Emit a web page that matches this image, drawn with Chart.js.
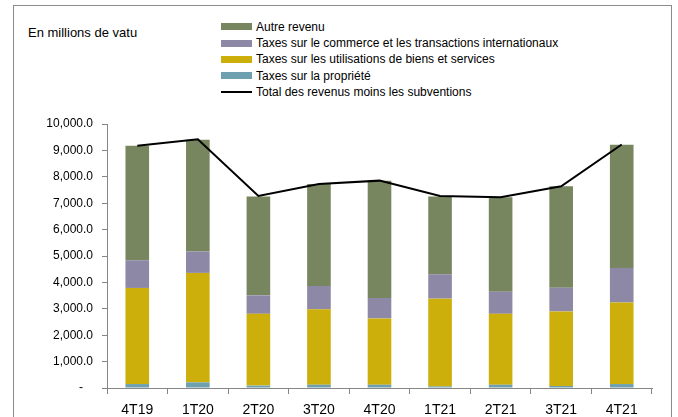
<!DOCTYPE html>
<html>
<head>
<meta charset="utf-8">
<script src="https://cdn.jsdelivr.net/npm/chart.js@4"></script>
<style>
  body { margin: 0; background: #fff; font-family: "Liberation Sans", Arial, sans-serif; }
  #wrap { position: relative; width: 678px; height: 417px; overflow: hidden; }
  #frame { position: absolute; left: 13px; top: 5px; width: 657px; height: 430px; border: 1px solid #8c8c8c; }
  #unit { position: absolute; left: 28px; top: 25px; font-size: 13px; color: #000; }
  #legend { position: absolute; left: 221px; top: 19px; font-size: 12px; color: #000; }
  .item { height: 16.2px; line-height: 16px; white-space: nowrap; }
  .swatch { display: inline-block; width: 31px; height: 7px; margin-right: 4px; vertical-align: middle; position: relative; top: -1px; }
  .line { display: inline-block; width: 31px; height: 2px; margin-right: 4px; vertical-align: middle; position: relative; top: -1px; background: #000; }
  canvas { position: absolute; left: 0; top: 0; }
</style>
</head>
<body>
<div id="wrap">
  <div id="frame"></div>
  <div id="unit">En millions de vatu</div>
  <div id="legend"></div>
  <canvas id="canvas" width="678" height="417"></canvas>
</div>
<script>
const quarters = ["4T19", "1T20", "2T20", "3T20", "4T20", "1T21", "2T21", "3T21", "4T21"];
const autreRevenu = [4340, 4230, 3740, 3865, 4445, 2940, 3575, 3840, 4660];
const taxesCommerce = [1050, 810, 700, 885, 775, 925, 840, 900, 1310];
const taxesUtilisations = [3640, 4145, 2720, 2855, 2510, 3325, 2685, 2825, 3090];
const taxesPropriete = [150, 215, 90, 125, 125, 60, 125, 75, 150];
const totalNet = [9175, 9420, 7275, 7730, 7855, 7270, 7225, 7640, 9225];
const yTicks = [0, 1000, 2000, 3000, 4000, 5000, 6000, 7000, 8000, 9000, 10000];

const axisGrey = "#868686";

const ctx = document.getElementById('canvas');
const myChart = new Chart(ctx, {
  type: 'bar',
  data: {
    labels: quarters,
    datasets: [
      { label: 'Taxes sur la propriété', data: taxesPropriete, backgroundColor: "#6fa0af", order: 1, legendRank: 3 },
      { label: 'Taxes sur les utilisations de biens et services', data: taxesUtilisations, backgroundColor: "#cdaf0b", order: 1, legendRank: 2 },
      { label: 'Taxes sur le commerce et les transactions internationaux', data: taxesCommerce, backgroundColor: "#8d88a5", order: 1, legendRank: 1 },
      { label: 'Autre revenu', data: autreRevenu, backgroundColor: "#77865f", order: 1, legendRank: 0 },
      {
        type: 'line',
        label: 'Total des revenus moins les subventions',
        data: totalNet,
        borderColor: "#000",
        borderWidth: 2,
        pointRadius: 0,
        tension: 0,
        stack: 'total',
        order: 0,
        legendRank: 4
      }
    ]
  },
  options: {
    responsive: false,
    animation: false,
    datasets: { bar: { categoryPercentage: 1, barPercentage: 0.39 } },
    layout: { padding: { top: 124, right: 26, left: 0, bottom: 0 } },
    plugins: { legend: { display: false }, tooltip: { enabled: false } },
    scales: {
      x: {
        stacked: true,
        grid: { drawOnChartArea: false, offset: true, tickLength: 6, color: axisGrey },
        border: { color: axisGrey },
        ticks: { color: "#000", padding: 8, font: { family: '"Liberation Sans Narrow", "Liberation Sans", Arial', size: 14 } },
        afterFit: s => { s.height = 29; }
      },
      y: {
        stacked: true,
        min: 0,
        max: 10000,
        afterBuildTicks: s => { s.ticks = yTicks.map(v => ({ value: v })); },
        grid: { drawOnChartArea: false, tickLength: 5, color: axisGrey },
        border: { color: axisGrey },
        ticks: {
          color: "#000",
          padding: 9,
          font: { family: '"Liberation Sans", Arial', size: 12 },
          callback: v => v === 0 ? '-   ' : v.toLocaleString('en-US', { minimumFractionDigits: 1, maximumFractionDigits: 1 })
        },
        afterFit: s => { s.width = 107; }
      }
    }
  }
});

// legend built from the chart datasets, in the original order
const legendEl = document.getElementById('legend');
myChart.data.datasets.slice().sort((a, b) => a.legendRank - b.legendRank).forEach(ds => {
  const row = document.createElement('div');
  row.className = 'item';
  const mark = document.createElement('span');
  if (ds.type === 'line') {
    mark.className = 'line';
  } else {
    mark.className = 'swatch';
    mark.style.background = ds.backgroundColor;
  }
  row.appendChild(mark);
  row.appendChild(document.createTextNode(ds.label));
  legendEl.appendChild(row);
});
</script>
</body>
</html>
